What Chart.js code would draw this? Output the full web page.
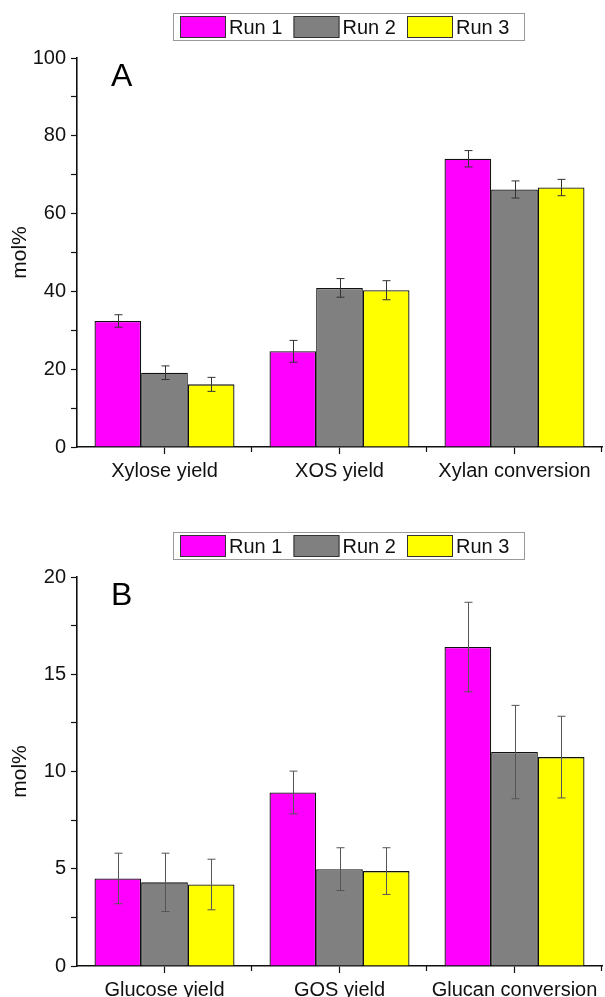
<!DOCTYPE html>
<html>
<head>
<meta charset="utf-8">
<title>Runs</title>
<script src="https://cdn.jsdelivr.net/npm/chart.js@4.4.8/dist/chart.umd.min.js"></script>
<style>
  html, body { margin: 0; padding: 0; background: #fff; overflow: hidden; }
  body { width: 605px; height: 997px; position: relative; }
  canvas { position: absolute; left: 0; }
</style>
</head>
<body>
<canvas id="chartA" width="605" height="500" style="top:0"></canvas>
<canvas id="chartB" width="605" height="500" style="top:519px"></canvas>
<script>
// data
const runLabels = ['Run 1', 'Run 2', 'Run 3'];
const runColors = ['#ff00ff', '#808080', '#ffff00'];

const catA = ['Xylose yield', 'XOS yield', 'Xylan conversion'];
const run1A = [32.4, 24.6, 74.1];
const run2A = [19.1, 40.9, 66.2];
const run3A = [16.1, 40.3, 66.7];
const err1A = [1.6, 2.8, 2.1];
const err2A = [1.75, 2.4, 2.2];
const err3A = [1.8, 2.45, 2.1];

const catB = ['Glucose yield', 'GOS yield', 'Glucan conversion'];
const run1B = [4.5, 8.92, 16.4];
const run2B = [4.3, 4.98, 11.0];
const run3B = [4.19, 4.88, 10.74];
const err1B = [1.3, 1.1, 2.3];
const err2B = [1.5, 1.1, 2.4];
const err3B = [1.3, 1.2, 2.1];

const yTicksA = { max: 100, step: 10, labelEvery: 20 };
const yTicksB = { max: 20, step: 2.5, labelEvery: 5 };

Chart.defaults.font.family = "'Liberation Sans', Arial, sans-serif";
Chart.defaults.font.size = 20;
Chart.defaults.color = '#111';

// error bars on top of each bar
const errorBars = {
    id: 'errorBars',
    afterDatasetsDraw(chart, args, opts) {
        const ctx = chart.ctx;
        const y = chart.scales.y;
        ctx.save();
        ctx.strokeStyle = opts.color;
        ctx.lineWidth = 1;
        chart.data.datasets.forEach((ds, d) => {
            chart.getDatasetMeta(d).data.forEach((bar, i) => {
                const v = ds.data[i], e = ds.errors[i];
                const top = y.getPixelForValue(v + e);
                const bot = y.getPixelForValue(v - e);
                const x = Math.round(bar.x) + 0.5;
                ctx.beginPath();
                ctx.moveTo(x, top); ctx.lineTo(x, bot);
                ctx.moveTo(x - 4, top); ctx.lineTo(x + 4, top);
                ctx.moveTo(x - 4, bot); ctx.lineTo(x + 4, bot);
                ctx.stroke();
            });
        });
        ctx.restore();
    }
};

// boxed legend, panel letter and minor x ticks between categories
const decorations = {
    id: 'decorations',
    afterDraw(chart, args, opts) {
        const ctx = chart.ctx;
        const area = chart.chartArea;
        ctx.save();

        // minor ticks at category boundaries
        ctx.strokeStyle = '#111';
        ctx.lineWidth = 1.2;
        const n = chart.data.labels.length;
        for (let i = 1; i <= n; i++) {
            const x = Math.round(area.left + i * (area.right - area.left) / n) - 0.5;
            ctx.beginPath();
            ctx.moveTo(x, area.bottom);
            ctx.lineTo(x, area.bottom + 5);
            ctx.stroke();
        }

        // legend
        ctx.strokeStyle = '#999';
        ctx.lineWidth = 1;
        ctx.strokeRect(173.5, 13.5, 351, 27);
        ctx.font = "20px 'Liberation Sans', Arial, sans-serif";
        ctx.textBaseline = 'middle';
        ctx.textAlign = 'left';
        chart.data.datasets.forEach((ds, d) => {
            const sx = 180 + d * 113.5;
            ctx.fillStyle = ds.backgroundColor;
            ctx.fillRect(sx, 16.5, 46, 21);
            ctx.strokeStyle = '#333';
            ctx.strokeRect(sx + 0.5, 16.5, 45, 21);
            ctx.fillStyle = '#111';
            ctx.fillText(ds.label, sx + 49, 28);
        });

        // panel letter
        ctx.font = "32px 'Liberation Sans', Arial, sans-serif";
        ctx.textBaseline = 'alphabetic';
        ctx.fillStyle = '#000';
        ctx.fillText(opts.letter, 111, 86);
        ctx.restore();
    }
};

function makeChart(id, cats, runs, errs, yt, letter, errColor) {
    return new Chart(document.getElementById(id), {
        type: 'bar',
        data: {
            labels: cats,
            datasets: runs.map((r, d) => ({
                label: runLabels[d],
                data: r,
                errors: errs[d],
                backgroundColor: runColors[d],
                borderColor: '#111',
                borderWidth: 1.3,
                categoryPercentage: 0.8,
                barPercentage: 1.0
            }))
        },
        options: {
            responsive: false,
            animation: false,
            events: [],
            layout: { padding: { top: 58, right: 3, left: 0, bottom: 0 } },
            plugins: {
                legend: { display: false },
                tooltip: { enabled: false },
                errorBars: { color: errColor },
                decorations: { letter: letter }
            },
            scales: {
                x: {
                    offset: true,
                    afterFit(s) { s.height = 53; },
                    grid: { offset: false, drawOnChartArea: false, tickLength: 7, color: '#111', tickWidth: 1.2 },
                    border: { color: '#111', width: 1.6 },
                    ticks: { padding: 5, color: '#111', font: { size: 20 } }
                },
                y: {
                    min: 0,
                    max: yt.max,
                    afterFit(s) { s.width = 77; },
                    afterBuildTicks(s) {
                        const t = [];
                        for (let v = 0; v <= yt.max + 1e-9; v += yt.step) t.push({ value: v });
                        s.ticks = t;
                    },
                    grid: { drawOnChartArea: false, tickLength: 6, color: '#111', tickWidth: 1.2 },
                    border: { color: '#111', width: 1.6 },
                    ticks: {
                        padding: 5,
                        color: '#111',
                        font: { size: 20 },
                        autoSkip: false,
                        callback: v => (Math.abs(v % yt.labelEvery) < 1e-9 ? v : '')
                    },
                    title: { display: true, text: 'mol%', color: '#111', font: { size: 21 }, padding: { top: 8, bottom: 0 } }
                }
            }
        },
        plugins: [errorBars, decorations]
    });
}

makeChart('chartA', catA, [run1A, run2A, run3A], [err1A, err2A, err3A], yTicksA, 'A', '#333');
makeChart('chartB', catB, [run1B, run2B, run3B], [err1B, err2B, err3B], yTicksB, 'B', '#555');
</script>
</body>
</html>
